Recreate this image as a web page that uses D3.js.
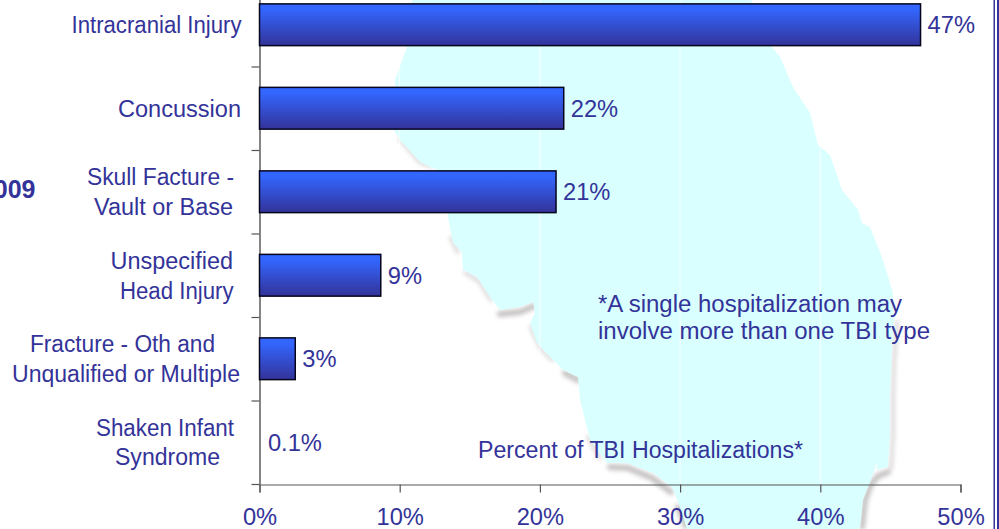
<!DOCTYPE html>
<html><head><meta charset="utf-8">
<script src="https://cdn.jsdelivr.net/npm/d3@7/dist/d3.min.js"></script>
<style>
html,body{margin:0;padding:0;background:#fff;overflow:hidden}
svg{display:block}
text{font-family:"Liberation Sans",Arial,sans-serif;fill:#333399}
</style></head><body>
<script>
// ---- data ----
const categories = ["Intracranial Injury","Concussion","Skull Facture - Vault or Base","Unspecified Head Injury","Fracture - Oth and Unqualified or Multiple","Shaken Infant Syndrome"];
const values = [47.15,21.7,21.15,8.65,2.55,0.1];
const valueLabels = ["47%","22%","21%","9%","3%","0.1%"];
const labelLines = [["Intracranial Injury"],["Concussion"],["Skull Facture -","Vault or Base"],["Unspecified","Head Injury"],["Fracture - Oth and","Unqualified or Multiple"],["Shaken Infant","Syndrome"]];
const xTicks = [0,10,20,30,40,50];
const xTitle = "Percent of TBI Hospitalizations*";
const footnote = ["*A single hospitalization may","involve more than one TBI type"];
const cutoffTitle = "009";

// ---- layout / decoration ----
const W=999,H=529;
const labelLeft = [[71.5],[118],[87,94],[110.5,120],[30,12],[96,115]];
const labelWidth = [[170],[123],[147,139],[122.5,113.5],[185,228],[138,105]];
const labelBaselines = [[33],[117],[185,215],[269,299],[352,382],[436,465]];
const mapOutline = [[412,0],[407,47],[395,80],[394,130],[400,140],[420,162],[432,168],[445,172],[448,217],[453,243],[462,252],[463,270],[477,277],[490,297],[500,310],[520,307],[533,302],[535,313],[530,323],[537,343],[550,357],[563,370],[578,377],[580,400],[590,440],[607,463],[627,463],[653,473],[672,487],[680,507],[687,529],[860,529],[863,500],[872,477],[877,462],[877,470],[888,467],[890,433],[890,393],[892,350],[894,320],[893,293],[883,260],[870,227],[862,223],[858,210],[842,190],[830,155],[818,145],[810,113],[793,87],[780,57],[771,46],[751,0]];
const softShadows = [
 [[400,139],[420,162],[431,166],[437,150]],[[441,135],[462,132]],
 [[451,238],[458,252]],[[465,272],[480,282],[491,300]],
 [[531,327],[540,347],[552,360]],[[588,437],[600,458]],
 [[897,322],[894,362],[893,395],[893,435],[891,468]]
];
const heavyShadows = [
 [[500,314],[520,312],[534,306]],[[565,373],[578,380]],
 [[610,467],[628,468],[652,478],[671,492]],[[678,507],[686,526]],
 [[888,472],[878,476],[871,484],[865,500],[862,527]]
];

const svg=d3.select("body").append("svg").attr("width",W).attr("height",H);
const defs=svg.append("defs");
const g=defs.append("linearGradient").attr("id","bar").attr("x1",0).attr("y1",0).attr("x2",0).attr("y2",1);
g.append("stop").attr("offset","0.12").attr("stop-color","#3366ff");
g.append("stop").attr("offset","1").attr("stop-color","#333399");
const f=defs.append("filter").attr("id","blur").attr("filterUnits","userSpaceOnUse").attr("x",0).attr("y",0).attr("width",W).attr("height",H);
f.append("feGaussianBlur").attr("stdDeviation",2.2);
const f2=defs.append("filter").attr("id","soft").attr("filterUnits","userSpaceOnUse").attr("x",0).attr("y",0).attr("width",W).attr("height",H);
f2.append("feGaussianBlur").attr("stdDeviation",0.6);

const x=d3.scaleLinear().domain([0,50]).range([259.5,960.5]);
const yTicks=d3.scaleLinear().domain([0,6]).range([-17,484]);
const y=d3.scaleBand().domain(categories).range([-17,484]);
const barH=y.bandwidth()*0.5;
const line=d3.line();

// map
const sh=svg.append("g").attr("filter","url(#blur)");
sh.selectAll("path.s").data(softShadows).join("path").attr("class","s")
 .attr("d",d=>line(d)).attr("fill","none").attr("stroke","#dcd8d8").attr("stroke-width",4).attr("stroke-linecap","round");
sh.selectAll("path.h").data(heavyShadows).join("path").attr("class","h")
 .attr("d",d=>line(d)).attr("fill","none").attr("stroke","#c6c2c2").attr("stroke-width",6).attr("stroke-linecap","round");
svg.append("path").attr("d",line(mapOutline)+"Z").attr("fill","#d9ffff").attr("filter","url(#soft)");

// gridlines (pale)
svg.append("g").selectAll("line").data(xTicks.slice(1,-1)).join("line")
 .attr("x1",d=>x(d)).attr("x2",d=>x(d)).attr("y1",0).attr("y2",484)
 .attr("stroke","#ffffff").attr("stroke-opacity",0.75).attr("stroke-width",1);

// axes
const ax=svg.append("g").attr("transform","translate(0,484.5)")
 .call(d3.axisBottom(x).tickValues(xTicks).tickSize(8).tickPadding(0).tickFormat(d=>d+"%"));
ax.selectAll("path").attr("stroke","#555").attr("stroke-width",1.2);
ax.selectAll("line").attr("stroke","#555").attr("stroke-width",1.2);
ax.selectAll("text").attr("y",null).attr("dy",null).attr("transform","translate(0,40.5)")
  .attr("font-size",23.7).style("font-family",'"Liberation Sans",Arial,sans-serif').attr("fill","#333399");
const ay=svg.append("g").attr("transform","translate(259.5,0)")
 .call(d3.axisLeft(yTicks).ticks(6).tickSize(8).tickSizeOuter(0).tickFormat(""));
ay.selectAll("path").attr("stroke","#333").attr("stroke-width",1.2);
ay.selectAll("line").attr("stroke","#555").attr("stroke-width",1.2);

// bars
svg.append("g").selectAll("rect").data(categories.slice(0,5)).join("rect")
 .attr("x",x(0)).attr("y",d=>y(d)+y.bandwidth()/2-barH/2)
 .attr("width",(d,i)=>x(values[i])-x(0)).attr("height",barH)
 .attr("fill","url(#bar)").attr("stroke","#05051e").attr("stroke-width",1.5);

// value labels
svg.append("g").selectAll("text").data(categories).join("text")
 .attr("x",(d,i)=>x(values[i])+7).attr("y",d=>y(d)+y.bandwidth()/2+8.3)
 .attr("font-size",23.7).text((d,i)=>valueLabels[i]);

// category labels
function fitted(t,xx,yy,w){
 return svg.append("text").attr("x",xx).attr("y",yy).attr("font-size",23.5)
  .attr("textLength",w).attr("lengthAdjust","spacingAndGlyphs").text(t);
}
labelLines.forEach((lines,i)=>lines.forEach((t,j)=>fitted(t,labelLeft[i][j],labelBaselines[i][j],labelWidth[i][j])));

// notes
fitted(xTitle,478,458,325);
fitted(footnote[0],598,312,304);
fitted(footnote[1],598,339,332);
svg.append("text").attr("x",35.5).attr("y",197.5).attr("text-anchor","end").attr("font-size",25).attr("font-weight","bold").text(cutoffTitle);

// frame on right
svg.append("rect").attr("x",993.5).attr("y",0).attr("width",1.5).attr("height",H).attr("fill","#333399");
svg.append("rect").attr("x",997).attr("y",0).attr("width",2).attr("height",H).attr("fill","#333399");
</script></body></html>
